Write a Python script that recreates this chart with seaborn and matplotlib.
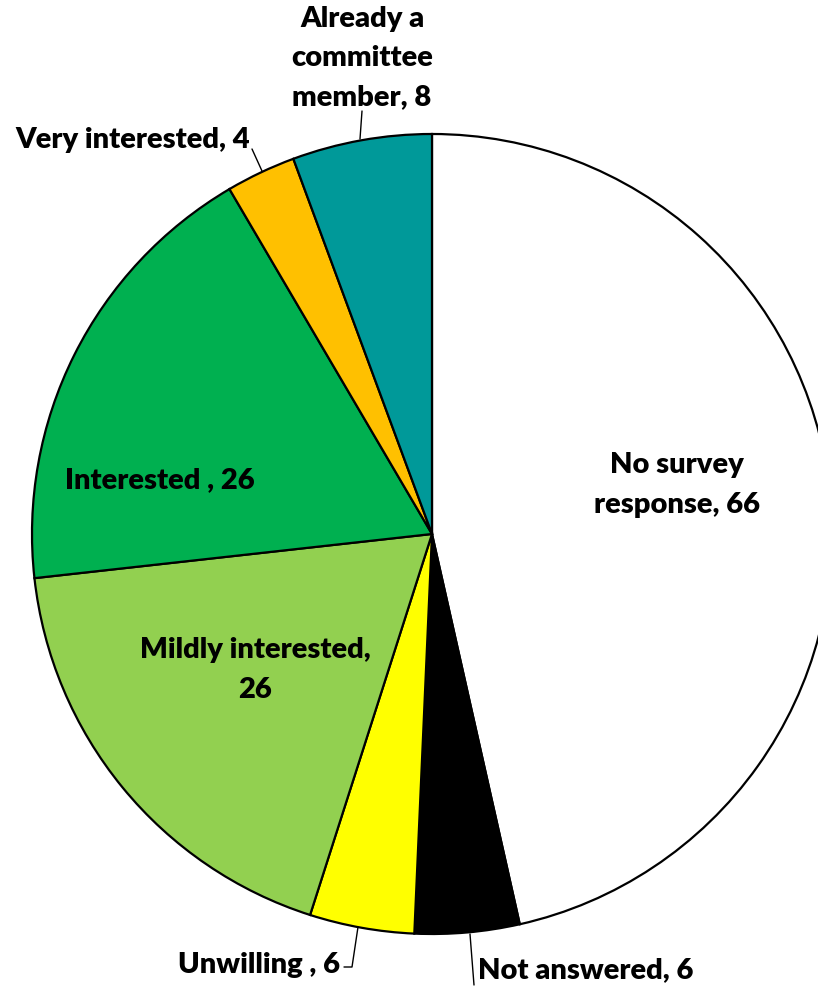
import matplotlib
matplotlib.use("Agg")
import matplotlib.pyplot as plt
import seaborn as sns

categories = ["No survey\nresponse", "Not answered", "Unwilling ", "Mildly interested,\n", "Interested ",
              "Very interested", "Already a\ncommittee\nmember"]
values = [66, 6, 6, 26, 26, 4, 8]
colors = ["#FFFFFF", "#000000", "#FFFF00", "#92D050", "#00B050", "#FFC000", "#009999"]

sns.set_theme(style="white")
plt.rcParams['font.family'] = ['Lato', 'DejaVu Sans']

W, H = 818, 987
fig = plt.figure(figsize=(W / 100, H / 100), dpi=100)
ax = fig.add_axes([0, 0, 1, 1])

ax.pie(values, colors=colors, startangle=90, counterclock=False,
       center=(432, H - 535), radius=400,
       wedgeprops=dict(edgecolor="black", linewidth=1.6))
ax.set_xlim(0, W)
ax.set_ylim(0, H)
ax.set_aspect("auto")
ax.axis("off")

def lab(i):
    c = categories[i]
    if c.endswith(",\n"):
        return f"{c}{values[i]}"
    return f"{c}, {values[i]}"

fs = 21
txt = dict(fontsize=fs, fontweight="heavy", color="black", linespacing=1.62)
# (x, y from top, ha)
positions = [(677, 485, "center"), (478, 970, "left"), (340, 965, "right"),
             (255, 670, "center"), (160, 480, "center"), (250, 140, "right"),
             (362, 58, "center")]
for i, (x, y, ha) in enumerate(positions):
    ax.text(x, H - y, lab(i), ha=ha, va="center", **txt)

# leader lines
leaders = [
    [(470, 935), (474, 986)],
    [(344, 968), (352, 968), (358, 928)],
    [(252, 150), (262, 172)],
    [(362, 112), (360, 140)],
]
for pts in leaders:
    ax.plot([p[0] for p in pts], [H - p[1] for p in pts], color="black", lw=1.0)

fig.savefig("out.png", dpi=100)
